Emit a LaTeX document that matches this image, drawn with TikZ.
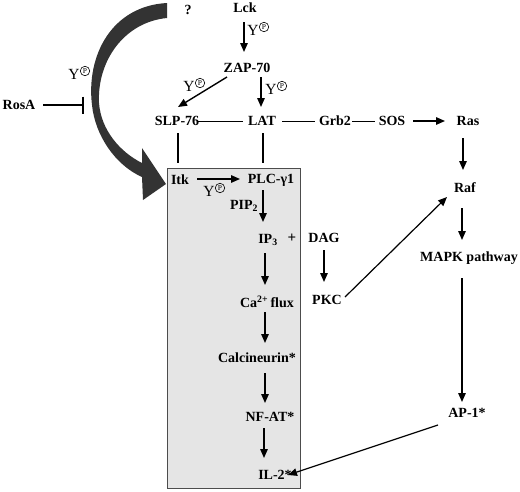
\documentclass[tikz,border=0pt]{standalone}
\usepackage{fontspec}
\setmainfont{Liberation Serif}
\usetikzlibrary{arrows.meta,calc}
\newcommand\yplabel[2]{\node[yl] (#1) at #2 {Y};
  \node[cp] (#1p) at ($(#1)+(11,-3)$) {P};}
\begin{document}
\begin{tikzpicture}[x=1pt,y=-1pt,
  lbl/.style={font=\fontsize{14}{16}\selectfont\bfseries, inner sep=0pt},
  yl/.style={font=\fontsize{15.5}{17}\selectfont, inner sep=0pt},
  cp/.style={circle,draw,line width=0.6pt,inner sep=0pt,minimum size=9.5pt,font=\fontsize{7.5}{7.5}\selectfont},
  arr/.style={line width=1.4pt,-{Triangle[length=9pt,width=7.5pt]}},
  ln/.style={line width=1pt}]
\useasboundingbox (0,0) rectangle (520,491);
\fill[white] (0,0) rectangle (520,491);
% shaded box
\node[draw=black!70, fill=black!10, line width=0.9pt, minimum width=133pt, minimum height=320pt, inner sep=0pt, anchor=north west] (box) at (167,168) {};
% big curved arrow
\fill[black!80] (167,3) .. controls (112,6) and (86,55) .. (92,105)
  .. controls (95,135) and (115,165) .. (142,177)
  -- (143,200) -- (166,184) -- (142,148) -- (142,163)
  .. controls (120,152) and (101,130) .. (99,103)
  .. controls (97,60) and (125,22) .. (167,18) -- cycle;
% nodes
\node[lbl] (q) at (188,10) {?};
\node[lbl] (lck) at (245,8) {Lck};
\node[lbl] (zap) at (247,68) {ZAP-70};
\node[lbl] (slp) at (177,121) {SLP-76};
\node[lbl] (lat) at (262,121) {LAT};
\node[lbl] (grb) at (335,121) {Grb2};
\node[lbl] (sos) at (392,121) {SOS};
\node[lbl] (ras) at (468,121) {Ras};
\node[lbl] (raf) at (465,188) {Raf};
\node[lbl] (mapk) at (469,258) {MAPK pathway};
\node[lbl] (ap1) at (467,413) {AP-1*};
\node[lbl] (rosa) at (19,105) {RosA};
\node[lbl] (itk) at (180,180) {Itk};
\node[lbl] (plc) at (271,180) {PLC-γ1};
\node[lbl] (pip) at (244,206) {PIP\textsubscript{2}};
\node[lbl] (ip3) at (268,240) {IP\textsubscript{3}};
\node[lbl, font=\fontsize{15}{16}\selectfont\bfseries] (plus) at (292,238) {+};
\node[lbl] (dag) at (324,238) {DAG};
\node[lbl] (ca) at (267,302) {Ca\textsuperscript{2+}\,flux};
\node[lbl] (pkc) at (327,300) {PKC};
\node[lbl] (calc) at (257,358) {Calcineurin*};
\node[lbl] (nfat) at (270,417) {NF-AT*};
\node[lbl] (il2) at (275,475) {IL-2*};
% Y(P) labels
\yplabel{ypa}{(253,30)}
\yplabel{ypb}{(189,86)}
\yplabel{ypc}{(271,89)}
\yplabel{ypd}{(74,74)}
\yplabel{ype}{(209,191)}
% connectors
\draw[arr] ($(lck)+(-1,14)$) -- ($(zap)+(-3,-16)$);
\draw[arr] ($(zap)+(-20,9)$) -- ($(slp)+(1,-14)$);
\draw[arr] ($(zap)+(14,9)$) -- ($(lat)+(-1,-14)$);
\draw[ln] ($(slp)+(21,0)$) -- ($(lat)+(-19,0)$);
\draw[ln] ($(lat)+(20,0)$) -- ($(grb)+(-20,0)$);
\draw[ln] ($(grb)+(17,0)$) -- ($(sos)+(-17,0)$);
\draw[arr] ($(sos)+(21,0)$) -- ($(ras)+(-23,0)$);
\draw[arr] ($(ras)+(-5,17)$) -- ($(raf)+(-2,-18)$);
\draw[arr] ($(raf)+(-3,20)$) -- ($(mapk)+(-7,-18)$);
\draw[arr] ($(mapk)+(-7,20)$) -- ($(ap1)+(-5,-11)$);
\draw[arr,line width=1.2pt] ($(ap1)+(-29,12)$) -- ($(il2)+(13,0)$);
\draw[line width=1.3pt] ($(slp)+(1,12)$) -- ($(itk)+(-2,-17)$);
\draw[line width=1.3pt] ($(lat)+(1,12)$) -- ($(plc)+(-8,-17)$);
\draw[arr] ($(itk)+(17,-1)$) -- ($(plc)+(-31,-1)$);
\draw[arr] ($(plc)+(-8,10)$) -- ($(ip3)+(-5,-18)$);
\draw[arr] ($(ip3)+(-3,13)$) -- ($(ca)+(-2,-17)$);
\draw[arr] ($(ca)+(-2,10)$) -- ($(calc)+(8,-15)$);
\draw[arr] ($(calc)+(8,15)$) -- ($(nfat)+(-5,-14)$);
\draw[arr] ($(nfat)+(-6,11)$) -- ($(il2)+(-11,-17)$);
\draw[arr] ($(dag)+(0,12)$) -- ($(pkc)+(-3,-18)$);
\draw[arr,line width=1.2pt] ($(pkc)+(18,-3)$) -- ($(raf)+(-18,9)$);
\coordinate (rosaend) at (84,105);
\draw[line width=1.6pt,-{Bar[width=17pt,line width=2.2pt]}] ($(rosa)+(24,0)$) -- (rosaend);
\end{tikzpicture}
\end{document}
